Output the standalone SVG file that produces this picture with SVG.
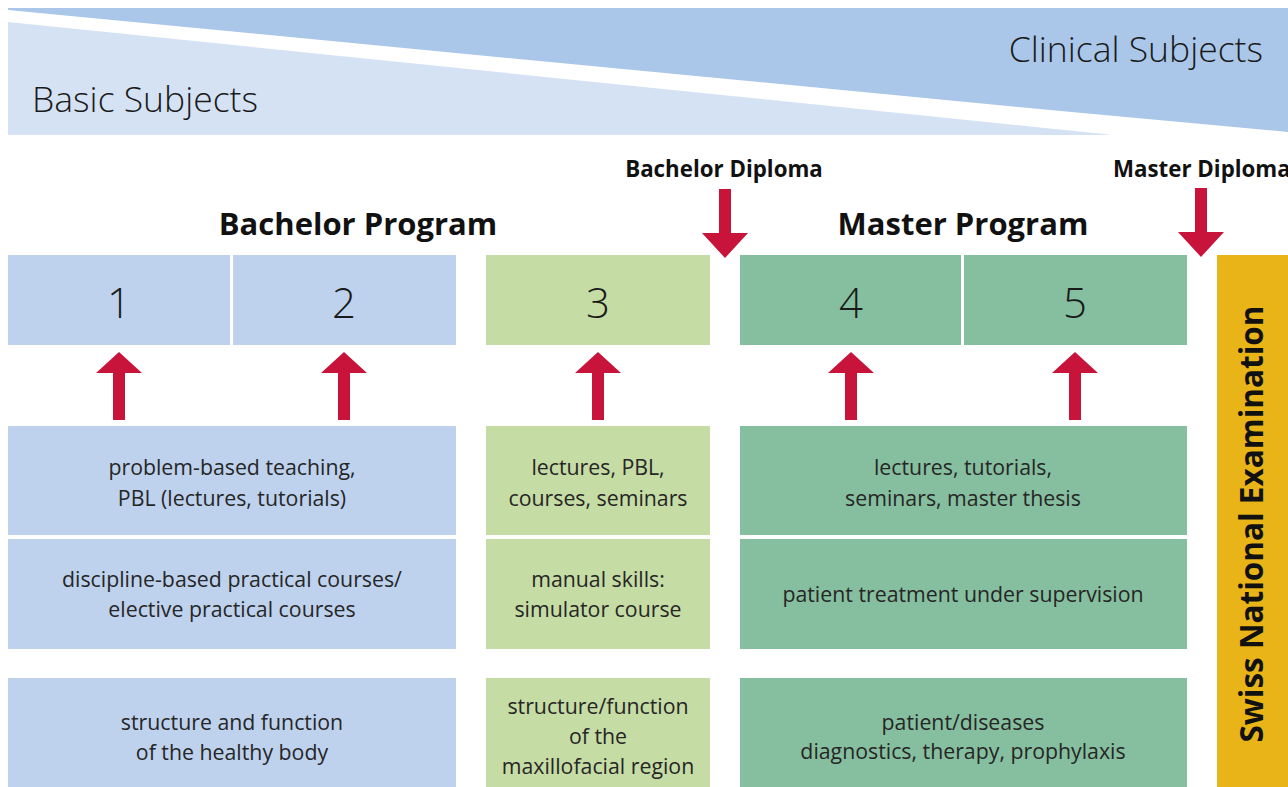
<svg xmlns="http://www.w3.org/2000/svg" width="1288" height="787" viewBox="0 0 1288 787">
<style>
.t{font-family:"Open Sans","Noto Sans","Liberation Sans",sans-serif;fill:#262626;font-size:21.3px;text-anchor:middle}
.num{font-family:"Open Sans","Noto Sans","Liberation Sans",sans-serif;fill:#1a1a1a;font-size:42px;font-weight:300;text-anchor:middle}
.hd{font-family:"Open Sans","Noto Sans","Liberation Sans",sans-serif;fill:#111;font-weight:bold}
.band{font-family:"Open Sans","Noto Sans","Liberation Sans",sans-serif;fill:#1a1a1a;font-size:35.5px;font-weight:300}
.blue{fill:#bed2ee}.lg{fill:#c6dca5}.dg{fill:#86bf9f}
.arr{fill:#c8133a}
</style>
<defs>
<path id="up" d="M0,0 L23,21 L6,21 L6,68 L-6,68 L-6,21 L-23,21 Z"/>
<path id="down" d="M0,0 L-23,-25 L-6,-25 L-6,-69 L6,-69 L6,-25 L23,-25 Z"/>
</defs>
<rect width="1288" height="787" fill="#ffffff"/>
<g id="band">
<polygon points="8,8 1288,8 1288,132 1050,110 8,10" fill="#aac7e9"/>
<polygon points="8,22 1113,135 8,135" fill="#d5e2f4"/>
<text class="band" x="32" y="112">Basic Subjects</text>
<text class="band" x="1263" y="62" text-anchor="end">Clinical Subjects</text>
</g>
<g id="headers">
<text class="hd" x="358" y="235" font-size="31" text-anchor="middle">Bachelor Program</text>
<text class="hd" x="963" y="235" font-size="31" text-anchor="middle">Master Program</text>
<text class="hd" x="724" y="177" font-size="22.3" text-anchor="middle">Bachelor Diploma</text>
<text class="hd" x="1113" y="177" font-size="22.3" text-anchor="start">Master Diploma</text>
</g>
<g id="year1"><rect class="blue" x="8" y="255" width="222" height="90"/><text class="num" x="119" y="318">1</text></g>
<g id="year2"><rect class="blue" x="233" y="255" width="223" height="90"/><text class="num" x="344" y="318">2</text></g>
<g id="year3"><rect class="lg" x="486" y="255" width="224" height="90"/><text class="num" x="598" y="318">3</text></g>
<g id="year4"><rect class="dg" x="740" y="255" width="221" height="90"/><text class="num" x="851" y="318">4</text></g>
<g id="year5"><rect class="dg" x="964" y="255" width="223" height="90"/><text class="num" x="1075" y="318">5</text></g>
<g id="bachelor-teaching"><rect class="blue" x="8" y="426" width="448" height="109"/>
<text class="t" x="232" y="475">problem-based teaching,</text><text class="t" x="232" y="506">PBL (lectures, tutorials)</text></g>
<g id="bachelor-practical"><rect class="blue" x="8" y="539" width="448" height="110"/>
<text class="t" x="232" y="587">discipline-based practical courses/</text><text class="t" x="232" y="617">elective practical courses</text></g>
<g id="bachelor-content"><rect class="blue" x="8" y="678" width="448" height="109"/>
<text class="t" x="232" y="730">structure and function</text><text class="t" x="232" y="760">of the healthy body</text></g>
<g id="y3-teaching"><rect class="lg" x="486" y="426" width="224" height="109"/>
<text class="t" x="598" y="475">lectures, PBL,</text><text class="t" x="598" y="506">courses, seminars</text></g>
<g id="y3-practical"><rect class="lg" x="486" y="539" width="224" height="110"/>
<text class="t" x="598" y="587">manual skills:</text><text class="t" x="598" y="617">simulator course</text></g>
<g id="y3-content"><rect class="lg" x="486" y="678" width="224" height="109"/>
<text class="t" x="598" y="714">structure/function</text><text class="t" x="598" y="744">of the</text><text class="t" x="598" y="774">maxillofacial region</text></g>
<g id="master-teaching"><rect class="dg" x="740" y="426" width="447" height="109"/>
<text class="t" x="963" y="475">lectures, tutorials,</text><text class="t" x="963" y="506">seminars, master thesis</text></g>
<g id="master-practical"><rect class="dg" x="740" y="539" width="447" height="110"/>
<text class="t" x="963" y="602">patient treatment under supervision</text></g>
<g id="master-content"><rect class="dg" x="740" y="678" width="447" height="109"/>
<text class="t" x="963" y="730">patient/diseases</text><text class="t" x="963" y="759">diagnostics, therapy, prophylaxis</text></g>
<g id="exam"><rect x="1217" y="255" width="71" height="532" fill="#e8b418"/>
<text class="hd" font-size="31.5" text-anchor="middle" transform="translate(1263,524) rotate(-90)">Swiss National Examination</text></g>
<g id="connectors">
<use href="#up" class="arr" x="119" y="352"/>
<use href="#up" class="arr" x="344" y="352"/>
<use href="#up" class="arr" x="598" y="352"/>
<use href="#up" class="arr" x="851" y="352"/>
<use href="#up" class="arr" x="1075" y="352"/>
<use href="#down" class="arr" x="725" y="258"/>
<use href="#down" class="arr" x="1201" y="257"/>
</g>
</svg>
